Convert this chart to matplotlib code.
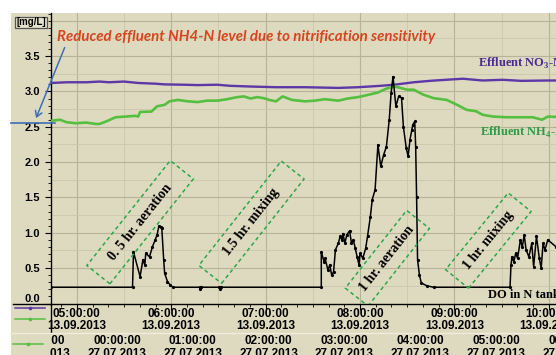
import matplotlib
matplotlib.use("Agg")
import matplotlib.pyplot as plt
import numpy as np
from matplotlib.patches import Rectangle, FancyArrowPatch
from matplotlib.lines import Line2D
from matplotlib.transforms import Affine2D
from matplotlib.ticker import MultipleLocator, FixedLocator, NullFormatter

W, H, DPI = 556, 355, 100

plt.rcParams['mathtext.fontset'] = 'custom'
plt.rcParams['mathtext.rm'] = 'Liberation Serif:bold'

# ---- data (time in decimal hours, 13.09.2013) ----
no3_t = [4.73, 4.89, 5.10, 5.24, 5.34, 5.50, 5.65, 5.83, 5.93, 6.14, 6.28, 6.49,
         6.62, 6.83, 7.11, 7.42, 7.77, 7.98, 8.22, 8.36, 8.57, 8.74, 8.91, 9.09,
         9.30, 9.51, 9.71, 9.99, 10.08]
no3_v = [3.12, 3.13, 3.13, 3.14, 3.13, 3.14, 3.12, 3.11, 3.10, 3.095, 3.09, 3.095,
         3.08, 3.07, 3.06, 3.06, 3.05, 3.06, 3.08, 3.095, 3.13, 3.15, 3.165, 3.18,
         3.155, 3.165, 3.15, 3.155, 3.155]

nh4_t = [4.73, 4.82, 4.89, 4.99, 5.10, 5.20, 5.24, 5.31, 5.41, 5.52, 5.62, 5.65,
         5.67, 5.79, 5.85, 5.93, 5.98, 6.07, 6.18, 6.28, 6.38, 6.49, 6.59, 6.70,
         6.77, 6.84, 6.91, 6.98, 7.04, 7.11, 7.18, 7.28, 7.42, 7.52, 7.63, 7.77,
         7.87, 7.98, 8.08, 8.19, 8.27, 8.36, 8.43, 8.50, 8.57, 8.67, 8.78, 8.92,
         9.03, 9.13, 9.23, 9.30, 9.41, 9.55, 9.69, 9.83, 9.93, 9.99, 10.08]
nh4_v = [2.585, 2.60, 2.565, 2.55, 2.56, 2.54, 2.54, 2.575, 2.635, 2.645, 2.655, 2.645,
         2.71, 2.715, 2.79, 2.81, 2.86, 2.88, 2.86, 2.85, 2.87, 2.87, 2.89, 2.92,
         2.93, 2.90, 2.92, 2.905, 2.88, 2.86, 2.93, 2.88, 2.86, 2.87, 2.89, 2.87,
         2.90, 2.92, 2.95, 2.985, 3.035, 3.07, 3.05, 3.025, 3.025, 2.955, 2.905, 2.88,
         2.81, 2.74, 2.72, 2.67, 2.645, 2.635, 2.635, 2.635, 2.60, 2.645, 2.64]

do_t = [4.73, 5.59, 5.60, 5.67, 5.70, 5.72, 5.73, 5.77, 5.80, 5.83, 5.85, 5.87,
        5.89, 5.90, 5.92, 5.93, 5.96, 5.99, 6.02, 6.30, 6.31, 6.32, 6.51, 6.52,
        6.53, 7.59, 7.59, 7.62, 7.63, 7.66, 7.68, 7.70, 7.72, 7.74, 7.77, 7.79,
        7.81, 7.82, 7.84, 7.86, 7.89, 7.91, 7.93, 7.95, 7.97, 7.99, 8.00, 8.03,
        8.06, 8.08, 8.11, 8.13, 8.16, 8.19, 8.22, 8.25, 8.28, 8.31, 8.33, 8.35,
        8.38, 8.41, 8.44, 8.46, 8.49, 8.51, 8.53, 8.55, 8.56, 8.58, 8.59, 8.60,
        8.61, 8.63, 8.65, 8.71, 8.78, 9.59, 9.60, 9.61, 9.63, 9.65, 9.67, 9.70,
        9.72, 9.74, 9.76, 9.79, 9.82, 9.84, 9.87, 9.90, 9.92, 9.94, 9.96, 9.99,
        10.08]
do_v = [0.23, 0.23, 0.73, 0.38, 0.62, 0.545, 0.71, 0.66, 0.80, 0.90, 0.97, 1.10,
        1.08, 1.065, 0.62, 0.43, 0.31, 0.26, 0.23, 0.23, 0.20, 0.23, 0.23, 0.20,
        0.23, 0.23, 0.73, 0.59, 0.64, 0.475, 0.545, 0.40, 0.45, 0.76, 0.85, 0.95,
        0.90, 0.99, 0.85, 0.97, 1.03, 0.85, 0.90, 0.78, 0.66, 0.545, 0.71, 0.64,
        0.78, 0.95, 1.23, 1.47, 1.61, 2.245, 1.94, 2.10, 2.22, 2.60, 2.98, 3.21,
        2.79, 2.93, 2.91, 2.50, 2.20, 2.08, 2.32, 2.46, 2.53, 2.575, 2.22, 1.50,
        0.62, 0.40, 0.29, 0.25, 0.23, 0.23, 0.545, 0.66, 0.59, 0.71, 0.64, 0.90,
        0.80, 0.97, 0.76, 0.66, 0.85, 0.52, 0.95, 0.64, 0.50, 0.85, 0.76, 0.90,
        0.80]

hours_row1 = [5, 6, 7, 8, 9, 10]
date_row1 = '13.09.2013'
hours_row2 = [-1, 0, 1, 2, 3, 4, 5, 6]

box_labels = ['0. 5 hr. aeration', '1.5 hr. mixing', '1 hr. aeration', '1 hr. mixing']
box_t = [5.67, 6.85, 8.29, 9.36]
box_v = [1.15, 1.15, 0.64, 0.89]
box_len = [134, 133, 99, 99]
box_wid = [29.5, 29, 29, 29.5]
box_ang = [51.5, 51.7, 51.7, 50.8]

BEIGE = '#DEDAC0'
GRID = '#B8B396'
GRID2 = '#CCC7AA'
PURPLE = '#5E38A6'
GREEN = '#55BF3F'
SANS = ['Liberation Sans', 'DejaVu Sans']
NARROW = ['Liberation Sans Narrow', 'Liberation Sans', 'DejaVu Sans']
SERIF = ['Liberation Serif', 'DejaVu Serif']


def fx(px):
    return px / W


def fy(py):
    return 1 - py / H


fig = plt.figure(figsize=(W / DPI, H / DPI), dpi=DPI, facecolor='white')
fig.add_artist(Rectangle((fx(11), 0), 1 - fx(11), fy(13), transform=fig.transFigure,
                         facecolor=BEIGE, edgecolor='none', zorder=-10))

ax = fig.add_axes([fx(51), fy(303.5), fx(556) - fx(51), fy(13) - fy(303.5)])
ax.set_facecolor(BEIGE)
ax.set_xlim(4.726, 10.077)
ax.set_ylim(0, 4.11)
for s in ['top', 'right']:
    ax.spines[s].set_visible(False)
ax.spines['left'].set_linewidth(1.0)
ax.spines['bottom'].set_linewidth(1.0)

# grid: hours / 0.5 darker, half hours / 0.25 lighter
for h in np.arange(4.5, 10.6, 0.5):
    ax.axvline(h, color=GRID if h % 1 == 0 else GRID2, lw=0.8 if h % 1 == 0 else 0.6, zorder=0)
for v in np.arange(0.25, 4.1, 0.25):
    ax.axhline(v, color=GRID if v % 0.5 == 0 else GRID2, lw=0.8 if v % 0.5 == 0 else 0.6, zorder=0)

ax.yaxis.set_major_locator(FixedLocator(np.arange(0, 3.6, 0.5)))
ax.yaxis.set_minor_locator(MultipleLocator(0.1))
ax.set_yticklabels([f'{v:.1f}' for v in np.arange(0, 3.6, 0.5)],
                   fontfamily=SANS, fontweight='bold', fontsize=8)
ax.get_yticklabels()[0].set_verticalalignment('bottom')
ax.xaxis.set_major_locator(FixedLocator(hours_row1))
ax.xaxis.set_minor_locator(MultipleLocator(1 / 6))
ax.xaxis.set_major_formatter(NullFormatter())
ax.tick_params(which='major', direction='out', length=4, width=0.8, pad=4)
ax.tick_params(which='minor', direction='out', length=2, width=0.6)

ax.plot(no3_t, no3_v, color=PURPLE, lw=1.7, zorder=3)
ax.plot(nh4_t, nh4_v, color=GREEN, lw=1.9, zorder=3)
ax.plot(do_t, do_v, color='black', lw=1.1, marker='o', ms=1.3, zorder=4)

# series names
ax.text(9.25, 3.40, r'Effluent NO$_\mathregular{3}$-N', color='#4B2B8C', fontfamily=SERIF,
        fontweight='bold', fontsize=9, va='center')
ax.text(9.27, 2.415, r'Effluent NH$_\mathregular{4}$-N', color='#2E9A45', fontfamily=SERIF,
        fontweight='bold', fontsize=9, va='center')
ax.text(9.36, 0.12, 'DO in N tank', color='black', fontfamily=SERIF,
        fontweight='bold', fontsize=9, va='center')

# rotated phase boxes
fig.canvas.draw()
for lab, t, v, L, Wd, a in zip(box_labels, box_t, box_v, box_len, box_wid, box_ang):
    cx, cy = ax.transData.transform((t, v))
    tr = Affine2D().rotate_deg(a).translate(cx, cy)
    ax.add_patch(Rectangle((-L / 2, -Wd / 2), L, Wd, transform=tr, fill=False,
                           edgecolor='#2BA84A', lw=1.1, linestyle=(0, (2.5, 2)), zorder=5))
    ax.text(t, v, lab, rotation=a, rotation_mode='anchor', ha='center', va='center',
            fontfamily=SERIF, fontweight='bold', fontsize=10, zorder=6)

# red note with arrow to the reduced level
fig.text(fx(57), fy(37), 'Reduced effluent NH4-N level due to nitrification sensitivity',
         color='#D8441F', fontfamily=['Lato', 'Open Sans'], fontweight='bold',
         fontstyle='italic', fontsize=10.8, ha='left', va='center')
ax.plot([-40 / 505, 4 / 505], [2.553, 2.553], transform=ax.get_yaxis_transform(),
        color='#3D6EB6', lw=1.2, clip_on=False, zorder=6)
fig.add_artist(FancyArrowPatch((fx(65.7), fy(45)), (fx(35), fy(120.7)), transform=fig.transFigure,
                               arrowstyle='->,head_length=4,head_width=2.5', color='#3D6EB6', lw=1.1))

# unit box
fig.add_artist(Rectangle((fx(15), fy(27.5)), fx(47) - fx(15), fy(16.5) - fy(27.5),
                         transform=fig.transFigure, facecolor='#E6E2CB', edgecolor='#555555', lw=0.9))
fig.text(fx(31), fy(22), '[mg/L]', fontfamily=SANS, fontweight='bold', fontsize=7,
         ha='center', va='center')

# bottom axis lines into the legend column
fig.add_artist(Line2D([fx(13), fx(51)], [fy(303.5)] * 2, transform=fig.transFigure, color='black', lw=1.0))
fig.add_artist(Line2D([fx(51)] * 2, [fy(303.5), fy(332)], transform=fig.transFigure, color='black', lw=1.0))

# legend samples
for y0, x0, x1, c in [(307.7, 15, 45, PURPLE), (319, 15, 45, GREEN), (344.3, 13, 43, GREEN)]:
    fig.add_artist(Line2D([fx(x0), fx(x1)], [fy(y0)] * 2, transform=fig.transFigure, color=c, lw=1.1))
    fig.add_artist(Line2D([fx((x0 + x1) / 2)], [fy(y0)], transform=fig.transFigure, color=c,
                          marker='o', ms=1.6))

# first time row
ax1 = fig.add_axes([fx(51), fy(332), fx(556) - fx(51), fy(303.5) - fy(332)])
ax1.set_xlim(ax.get_xlim())
ax1.set_ylim(0, 1)
ax1.axis('off')
for h in hours_row1:
    ax1.text(h, 0.64, f'{h:02d}:00:00', ha='center', va='center', fontfamily=NARROW,
             fontweight='bold', fontsize=8.5, clip_on=False)
    ax1.text(h, 0.22, date_row1, ha='center', va='center', fontfamily=NARROW,
             fontweight='bold', fontsize=8.5, clip_on=False)

# second time row
fig.add_artist(Line2D([fx(10), 1], [fy(332.5)] * 2, transform=fig.transFigure, color='#F0EDDC', lw=1.0))
ax2 = fig.add_axes([fx(50), 0, 1 - fx(50), fy(333)])
ax2.set_xlim((50 - 117) / 75.8, (556 - 117) / 75.8)
ax2.set_ylim(0, 1)
ax2.axis('off')
for h in hours_row2:
    d = '26.07.2013' if h < 0 else '27.07.2013'
    ax2.text(h, 0.62, f'{h % 24:02d}:00:00', ha='center', va='center', fontfamily=NARROW,
             fontweight='bold', fontsize=8.5, clip_on=True)
    ax2.text(h, 0.06, d, ha='center', va='center', fontfamily=NARROW,
             fontweight='bold', fontsize=8.5, clip_on=True)

fig.savefig('out.png', dpi=DPI, facecolor='white')
